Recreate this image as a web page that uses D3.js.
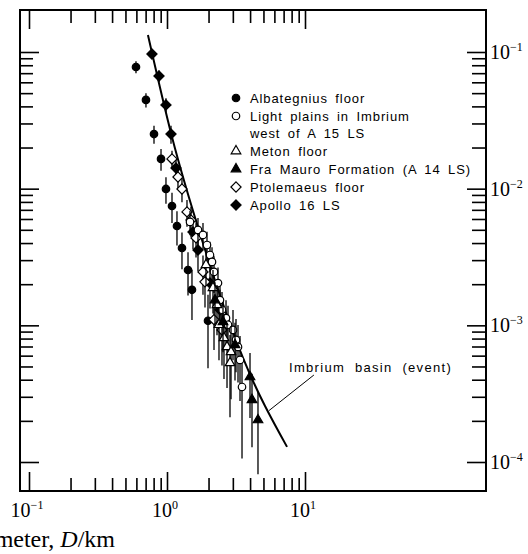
<!DOCTYPE html>
<html>
<head>
<meta charset="utf-8">
<script src="https://cdnjs.cloudflare.com/ajax/libs/d3/7.8.5/d3.min.js"></script>
<style>
  body { margin: 0; background: #fff; }
  svg { display: block; }
  .legend text { font-family: "Liberation Sans", Arial, sans-serif; font-size: 13px; letter-spacing: 0.9px; word-spacing: 3px; }
  .note { font-family: "Liberation Sans", Arial, sans-serif; font-size: 13px; letter-spacing: 1.3px; word-spacing: 5px; }
  .num { font-family: "Liberation Serif", "DejaVu Serif", serif; }
</style>
</head>
<body>
<div id="chart"></div>
<script>
// crater diameter D (km) and cumulative density N (per km^2)
const albategniusD = [0.596, 0.704, 0.805, 0.905, 0.983, 1.087, 1.181, 1.284, 1.420, 1.517, 1.982];
const albategniusN = [0.0777, 0.0446, 0.0251, 0.0165, 0.00995, 0.00747, 0.00533, 0.00368, 0.00254, 0.00182, 0.00108];
const albategniusErr = [0.1, 0.12, 0.15, 0.18, 0.22, 0.25, 0.28, 0.3, 0.35, 0.4, 0.55];

const lightPlainsD = [1.468, 1.677, 1.823, 1.949, 2.049, 2.119, 2.191, 2.342, 2.421, 2.503, 2.677, 2.767, 3.008, 3.162, 3.270, 3.381, 3.496];
const lightPlainsN = [0.00571, 0.00499, 0.00459, 0.00387, 0.00327, 0.00291, 0.00246, 0.00204, 0.00153, 0.00130, 0.00113, 0.00101, 0.000925, 0.000782, 0.000695, 0.000558, 0.000354];
const lightPlainsErr = [0.2, 0.22, 0.22, 0.25, 0.25, 0.28, 0.3, 0.3, 0.32, 0.35, 0.35, 0.38, 0.4, 0.42, 0.45, 0.5, 0.7];

const metonD = [1.917, 2.154, 2.303, 2.381, 2.588, 2.722, 2.910, 2.861];
const metonN = [0.00277, 0.00188, 0.00141, 0.00101, 0.000809, 0.000695, 0.000639, 0.000531];
const metonErr = [0.3, 0.35, 0.4, 0.45, 0.5, 0.5, 0.55, 0.6];

const fraMauroD = [2.228, 2.546, 3.110, 3.995, 4.130, 4.564];
const fraMauroN = [0.00153, 0.00106, 0.000719, 0.000419, 0.000285, 0.000203];
const fraMauroErr = [0.35, 0.4, 0.45, 0.5, 0.55, 0.6];

const ptolemaeusD = [1.087, 1.201, 1.284, 1.396, 1.492, 1.623, 1.823, 1.885, 2.191, 2.503];
const ptolemaeusN = [0.0165, 0.01218, 0.00995, 0.00676, 0.00590, 0.00436, 0.00246, 0.00208, 0.00110, 0.000925];
const ptolemaeusErr = [0.15, 0.18, 0.2, 0.22, 0.25, 0.28, 0.32, 0.35, 0.4, 0.45];

const apolloD = [0.778, 0.875, 0.983, 1.069, 1.162, 1.543, 1.677, 2.049, 2.421];
const apolloN = [0.0967, 0.0667, 0.0410, 0.0251, 0.01417, 0.00482, 0.00356, 0.00204, 0.00130];
const apolloErr = [0.08, 0.1, 0.12, 0.15, 0.18, 0.25, 0.3, 0.35, 0.4];

// production curve
const curveD = [0.728, 1.087, 1.793, 3.554, 7.41];
const curveN = [0.133, 0.0239, 0.00421, 0.000578, 0.000129];

// Imbrium basin pointer (curve point -> label)
const imbriumD = [5.49, 11.6];
const imbriumN = [0.000238, 0.000433];

const legendLabels = ['Albategnius floor', 'Light plains in Imbrium', 'Meton floor', 'Fra Mauro Formation (A 14 LS)', 'Ptolemaeus floor', 'Apollo 16 LS'];
const xDecades = [-1, 0, 1];
const yDecades = [-1, -2, -3, -4];

const W = 528, H = 554;
const box = { left: 20, top: 10, right: 486, bottom: 491 };

const svg = d3.select('#chart').append('svg')
  .attr('width', W)
  .attr('height', H);

const x = d3.scaleLog().domain([0.1, 10]).range([29, 305]);
const y = d3.scaleLog().domain([1e-1, 1e-4]).range([52, 462]);

// tick values
const xMajor = xDecades.map(e => Math.pow(10, e));
const xMinor = [];
[0.1, 1].forEach(b => { for (let k = 2; k <= 9; k++) xMinor.push(b * k); });
const yMajor = yDecades.map(e => Math.pow(10, e));
const yMinor = [];
[1e-4, 1e-3, 1e-2].forEach(b => { for (let k = 2; k <= 9; k++) yMinor.push(b * k); });

function addAxis(axis, transform) {
  const g = svg.append('g').attr('transform', transform).call(axis);
  g.select('.domain').remove();
  g.selectAll('.tick line').attr('stroke', '#000').attr('stroke-width', 1.6);
  g.selectAll('.tick text').remove();
}

addAxis(d3.axisBottom(x).tickValues(xMinor).tickSize(-13), `translate(0,${box.bottom})`);
addAxis(d3.axisBottom(x).tickValues(xMajor).tickSize(-19), `translate(0,${box.bottom})`);
addAxis(d3.axisTop(x).tickValues(xMinor).tickSize(-13), `translate(0,${box.top})`);
addAxis(d3.axisTop(x).tickValues(xMajor).tickSize(-19), `translate(0,${box.top})`);
addAxis(d3.axisLeft(y).tickValues(yMinor).tickSize(-13), `translate(${box.left},0)`);
addAxis(d3.axisLeft(y).tickValues(yMajor).tickSize(-19), `translate(${box.left},0)`);
addAxis(d3.axisRight(y).tickValues(yMinor).tickSize(-14), `translate(${box.right},0)`);
addAxis(d3.axisRight(y).tickValues(yMajor).tickSize(-19), `translate(${box.right},0)`);

svg.append('rect')
  .attr('x', box.left).attr('y', box.top)
  .attr('width', box.right - box.left).attr('height', box.bottom - box.top)
  .attr('fill', 'none').attr('stroke', '#000').attr('stroke-width', 2);

// tick labels
function powerLabel(g, e) {
  g.append('tspan').text('10');
  g.append('tspan').attr('dy', -8).attr('font-size', 12).text(e < 0 ? '\u2212' + (-e) : e);
}

xDecades.forEach(e => {
  const t = svg.append('text').attr('class', 'num')
    .attr('x', x(Math.pow(10, e)) - 2).attr('y', 517)
    .attr('text-anchor', 'middle').attr('font-size', 20);
  powerLabel(t, e);
});

yDecades.forEach(e => {
  const t = svg.append('text').attr('class', 'num')
    .attr('x', box.right + 4).attr('y', y(Math.pow(10, e)) + 7)
    .attr('font-size', 20);
  powerLabel(t, e);
});

// axis title, cut by the left edge as in the source scan
const xTitle = svg.append('text').attr('class', 'num')
  .attr('x', 115).attr('y', 547).attr('text-anchor', 'end').attr('font-size', 24);
xTitle.append('tspan').text('Crater diameter, ');
xTitle.append('tspan').attr('font-style', 'italic').text('D');
xTitle.append('tspan').text('/km');

// production curve
const line = d3.line()
  .x(d => x(d[0]))
  .y(d => y(d[1]))
  .curve(d3.curveMonotoneX);

svg.append('path')
  .datum(d3.zip(curveD, curveN))
  .attr('d', line)
  .attr('fill', 'none')
  .attr('stroke', '#000')
  .attr('stroke-width', 2);

// markers
const diamond = d3.symbolDiamond2 || d3.symbolDiamond;
const symbols = {
  filledCircle: { type: d3.symbolCircle, size: 44, fill: '#000' },
  openCircle: { type: d3.symbolCircle, size: 44, fill: '#fff' },
  openTriangle: { type: d3.symbolTriangle, size: 40, fill: '#fff' },
  filledTriangle: { type: d3.symbolTriangle, size: 40, fill: '#000' },
  openDiamond: { type: diamond, size: 66, fill: '#fff' },
  filledDiamond: { type: diamond, size: 66, fill: '#000' },
};

const series = [
  { D: albategniusD, N: albategniusN, err: albategniusErr, sym: 'filledCircle' },
  { D: apolloD, N: apolloN, err: apolloErr, sym: 'filledDiamond' },
  { D: ptolemaeusD, N: ptolemaeusN, err: ptolemaeusErr, sym: 'openDiamond' },
  { D: lightPlainsD, N: lightPlainsN, err: lightPlainsErr, sym: 'openCircle' },
  { D: metonD, N: metonN, err: metonErr, sym: 'openTriangle' },
  { D: fraMauroD, N: fraMauroN, err: fraMauroErr, sym: 'filledTriangle' },
];

function marker(sel, name) {
  const s = symbols[name];
  sel.attr('d', d3.symbol().type(s.type).size(s.size))
    .attr('fill', s.fill)
    .attr('stroke', '#000')
    .attr('stroke-width', 1.2);
}

series.forEach(s => {
  const pts = s.D.map((d, i) => ({ D: d, N: s.N[i], r: s.err[i] }));
  const g = svg.append('g');
  g.selectAll('line')
    .data(pts)
    .join('line')
    .attr('x1', d => x(d.D)).attr('x2', d => x(d.D))
    .attr('y1', d => y(d.N * (1 + d.r)))
    .attr('y2', d => y(d.N * (1 - d.r)))
    .attr('stroke', '#000')
    .attr('stroke-width', 1.3);
  g.selectAll('path')
    .data(pts)
    .join('path')
    .attr('transform', d => `translate(${x(d.D)},${y(d.N)})`)
    .call(marker, s.sym);
});

// legend
const legendSyms = ['filledCircle', 'openCircle', 'openTriangle', 'filledTriangle', 'openDiamond', 'filledDiamond'];
const legendY = [98, 116, 151, 169, 187, 205];
const legend = svg.append('g').attr('class', 'legend');
legendLabels.forEach((lab, i) => {
  legend.append('path')
    .attr('transform', `translate(236,${legendY[i]})`)
    .call(marker, legendSyms[i]);
  legend.append('text').attr('x', 250).attr('y', legendY[i] + 5).text(lab);
});
legend.append('text').attr('x', 250).attr('y', 133 + 5).text('west of A 15 LS');

// Imbrium basin note
svg.append('line')
  .attr('x1', x(imbriumD[0])).attr('y1', y(imbriumN[0]))
  .attr('x2', x(imbriumD[1])).attr('y2', y(imbriumN[1]))
  .attr('stroke', '#000').attr('stroke-width', 1);
svg.append('text').attr('class', 'note')
  .attr('x', 289).attr('y', 372)
  .text('Imbrium basin (event)');
</script>
</body>
</html>
